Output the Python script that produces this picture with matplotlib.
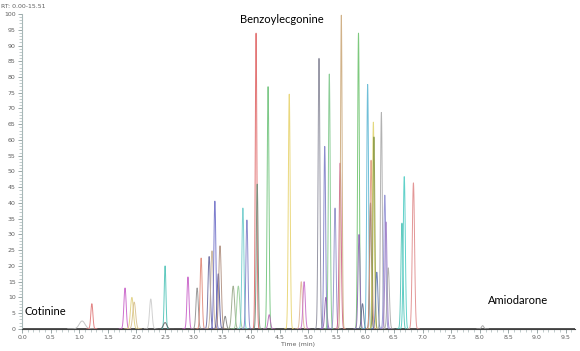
import numpy as np
import matplotlib
matplotlib.use("Agg")
import matplotlib.pyplot as plt
from matplotlib.ticker import MultipleLocator, FormatStrFormatter

# Peak retention times (min), relative abundances (%), colours
peak_rt = [1.05, 1.22, 1.80, 1.92, 1.96, 2.25, 2.50, 2.50, 2.90, 3.06,
           3.13, 3.27, 3.32, 3.37, 3.43, 3.46, 3.55, 3.69, 3.78, 3.86,
           3.93, 4.09, 4.11, 4.30, 4.32, 4.67, 4.88, 4.93, 5.19, 5.29,
           5.31, 5.37, 5.47, 5.56, 5.58, 5.88, 5.89, 5.95, 6.04, 6.09,
           6.10, 6.14, 6.15, 6.20, 6.28, 6.34, 6.36, 6.40, 6.64, 6.68,
           6.84, 8.05]
peak_height = [2.5, 8.0, 13.0, 10.0, 8.5, 9.5, 20.0, 2.0, 16.5, 13.0,
               22.5, 23.0, 24.8, 40.6, 17.5, 26.4, 4.0, 13.6, 13.6, 38.4,
               34.6, 94.0, 46.0, 77.0, 4.5, 74.6, 15.0, 15.0, 86.0, 58.0,
               10.0, 81.0, 38.4, 52.7, 99.7, 94.0, 30.0, 8.0, 77.7, 40.0,
               53.6, 65.7, 61.0, 18.0, 68.8, 42.5, 34.0, 19.4, 33.6, 48.4,
               46.4, 1.0]
peak_width = [0.05, 0.018, 0.02, 0.025, 0.025, 0.022, 0.015, 0.03, 0.018, 0.02,
              0.018, 0.02, 0.022, 0.018, 0.02, 0.022, 0.02, 0.025, 0.025, 0.018,
              0.018, 0.014, 0.016, 0.016, 0.02, 0.016, 0.02, 0.02, 0.016, 0.016,
              0.02, 0.016, 0.018, 0.018, 0.014, 0.015, 0.018, 0.02, 0.016, 0.016,
              0.018, 0.016, 0.016, 0.02, 0.016, 0.018, 0.018, 0.02, 0.018, 0.018,
              0.02, 0.02]
peak_color = ['#c0c0c0', '#e07878', '#c860c8', '#e0d080', '#d8c090', '#cccccc', '#50c4b8', '#606060', '#c860c8', '#909090',
              '#e08878', '#6868a0', '#c8b498', '#7070c8', '#5858a0', '#b09080', '#808080', '#98a888', '#98cc98', '#70cccc',
              '#8080c8', '#e06868', '#70907a', '#70c47c', '#b868b8', '#e8d470', '#e0b898', '#c870c8', '#8c8c9c', '#8080c8',
              '#9060b0', '#80c88c', '#9090c8', '#d0608c', '#ccaa7c', '#70c470', '#8c68b4', '#5c6888', '#60b8d4', '#606060',
              '#e09c80', '#e0d470', '#8c9c48', '#6078b0', '#aaaaaa', '#9090d4', '#a080c8', '#aaaaaa', '#50c4b8', '#50ccc4',
              '#e08c8c', '#a0a0a0']

x_ticks = np.arange(0, 9.51, 0.5)
y_ticks = np.arange(0, 101, 5)

fig = plt.figure(figsize=(5.8, 3.51), dpi=100)
ax = fig.add_axes([0.038, 0.063, 0.953, 0.897])

t = np.linspace(0, 9.7, 6000)
ax.plot(t, np.zeros_like(t), color='#303030', lw=1.0, zorder=1)
for rt, h, w, c in zip(peak_rt, peak_height, peak_width, peak_color):
    tt = np.linspace(rt - 5 * w, rt + 5 * w, 120)
    ax.plot(tt, h * np.exp(-0.5 * ((tt - rt) / w) ** 2), color=c, lw=0.7, alpha=0.9, zorder=2)

ax.set_xlim(0, 9.66)
ax.set_ylim(0, 100)
ax.set_xticks(x_ticks)
ax.set_yticks(y_ticks)
ax.xaxis.set_major_formatter(FormatStrFormatter('%.1f'))
ax.xaxis.set_minor_locator(MultipleLocator(0.1))
ax.yaxis.set_minor_locator(MultipleLocator(1))
for s in ['top', 'right']:
    ax.spines[s].set_visible(False)
ax.spines['left'].set_color('#a8b8b8')
ax.spines['bottom'].set_color('#404040')
ax.tick_params(axis='both', which='major', labelsize=4.5, labelcolor='#606060', color='#8a9a9a',
               length=3, width=0.6, pad=1.5)
ax.tick_params(axis='both', which='minor', color='#a8b8b8', length=2, width=0.5)
ax.set_xlabel('Time (min)', fontsize=4.5, color='#606060', labelpad=1)

fig.text(0.002, 0.988, 'RT: 0.00-15.51', fontsize=4.5, color='#606060', ha='left', va='top')

ax.text(0.05, 5.5, 'Cotinine', fontsize=8, family='Lato', ha='left', va='center')
ax.text(4.54, 98.2, 'Benzoylecgonine', fontsize=8, family='Lato', ha='center', va='center')
ax.text(8.67, 9.0, 'Amiodarone', fontsize=8, family='Lato', ha='center', va='center')

fig.savefig('out.png', dpi=100)
